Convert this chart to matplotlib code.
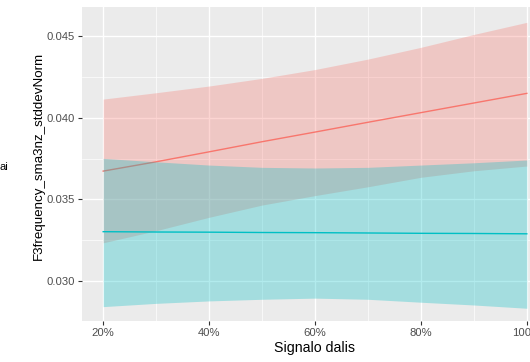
import matplotlib
matplotlib.use("Agg")
import matplotlib.pyplot as plt
from matplotlib.ticker import FixedLocator, FuncFormatter

plt.rcParams['font.family'] = ['Liberation Sans', 'DejaVu Sans']

# signal share (x) and smoothed fits
x = [0.2, 0.3, 0.4, 0.5, 0.6, 0.7, 0.8, 0.9, 1.0]

red_fit = [0.03673, 0.03730, 0.03791, 0.03853, 0.03912, 0.03972, 0.04031, 0.04090, 0.04149]
red_hi = [0.04114, 0.04153, 0.04194, 0.04241, 0.04295, 0.04359, 0.04431, 0.04510, 0.04584]
red_lo = [0.03234, 0.03308, 0.03390, 0.03465, 0.03523, 0.03577, 0.03635, 0.03675, 0.03704]

cyan_fit = [0.03302, 0.03300, 0.03299, 0.03297, 0.03296, 0.03294, 0.03292, 0.03291, 0.03289]
cyan_hi = [0.03751, 0.03730, 0.03710, 0.03696, 0.03692, 0.03696, 0.03710, 0.03724, 0.03741]
cyan_lo = [0.02843, 0.02863, 0.02878, 0.02888, 0.02895, 0.02888, 0.02870, 0.02853, 0.02833]

xticks = [0.2, 0.4, 0.6, 0.8, 1.0]
yticks = [0.030, 0.035, 0.040, 0.045]

fig = plt.figure(figsize=(5.30, 3.62), dpi=100)
# panel runs past the right edge, like the cropped original
ax = fig.add_axes([82 / 530, 1 - 321 / 362, 466 / 530, 314 / 362])
ax.set_facecolor('#EBEBEB')

ax.fill_between(x, red_lo, red_hi, color='#F8766D', alpha=0.3, lw=0, zorder=2)
ax.plot(x, red_fit, color='#F8766D', lw=1.0, zorder=3)
ax.fill_between(x, cyan_lo, cyan_hi, color='#00BFC4', alpha=0.3, lw=0, zorder=4)
ax.plot(x, cyan_fit, color='#00BFC4', lw=1.0, zorder=5)

ax.set_xlim(0.16, 1.04)
ax.set_ylim(0.02755, 0.04678)
ax.xaxis.set_major_locator(FixedLocator(xticks))
ax.xaxis.set_minor_locator(FixedLocator([0.3, 0.5, 0.7, 0.9]))
ax.yaxis.set_major_locator(FixedLocator(yticks))
ax.yaxis.set_minor_locator(FixedLocator([0.0325, 0.0375, 0.0425]))
ax.xaxis.set_major_formatter(FuncFormatter(lambda v, p: f"{v * 100:.0f}%"))
ax.yaxis.set_major_formatter(FuncFormatter(lambda v, p: f"{v:.3f}"))

ax.grid(which='major', color='white', lw=1.0, zorder=1)
ax.grid(which='minor', color='white', lw=0.5, zorder=1)
ax.set_axisbelow(True)
for s in ax.spines.values():
    s.set_visible(False)

ax.tick_params(which='major', length=3, width=0.8, color='#333333',
               labelcolor='#4D4D4D', labelsize=8.1, pad=2)
ax.tick_params(which='minor', length=0)

ax.set_xlabel('Signalo dalis', fontsize=10.2, labelpad=2)
ax.set_ylabel('F3frequency_sma3nz_stddevNorm', fontsize=9.6, labelpad=4)
ax.yaxis.set_label_coords(-0.08, 0.525)

fig.text(8 / 530, 1 - 167 / 362, 'ai', fontsize=8, ha='right', va='center')

fig.savefig('out.png', dpi=100)
